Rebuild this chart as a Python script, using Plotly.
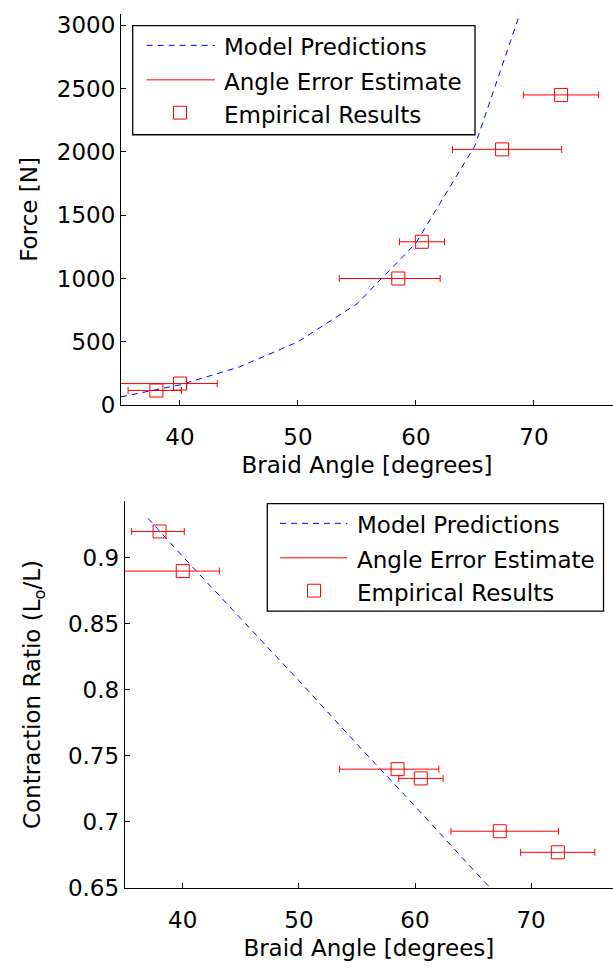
import plotly.graph_objects as go

W, H = 613, 969

# ---------------- data ----------------
angle_deg = [38.0, 40.0, 58.5, 60.5, 67.3, 72.3]
angle_err_low = [35.6, 34.0, 53.5, 58.6, 63.1, 69.1]
angle_err_high = [40.13, 43.15, 62.05, 62.42, 72.35, 75.48]
force_n = [115, 170, 1000, 1290, 2020, 2450]
contraction_ratio = [0.920, 0.890, 0.740, 0.733, 0.693, 0.677]

model_angle_force = [35, 40, 45, 50, 55, 60, 65, 70]
model_force = [65, 160, 300, 500, 800, 1280, 2050, 3420]
model_angle_ratio = [37, 40, 45, 50, 55, 60, 65, 70]
model_ratio = [0.930, 0.901, 0.854, 0.807, 0.759, 0.712, 0.664, 0.617]

legend_labels = ["Model Predictions", "Angle Error Estimate", "Empirical Results"]
x_title = "Braid Angle [degrees]"
y_title_top = "Force [N]"
y_title_bottom = "Contraction Ratio (L<sub>o</sub>/L)"

# ---------------- style ----------------
FONT = "DejaVu Sans"
FS = 23
BLUE = "#0000ff"
RED = "#ff0000"
DASH = "6px,5px"

err_plus = [h - a for h, a in zip(angle_err_high, angle_deg)]
err_minus = [a - l for a, l in zip(angle_deg, angle_err_low)]


def px(x):
    return x / W


def py(y):
    return 1 - y / H


fig = go.Figure()

for xa, ya, mx, my, yv in [
    ("x", "y", model_angle_force, model_force, force_n),
    ("x2", "y2", model_angle_ratio, model_ratio, contraction_ratio),
]:
    fig.add_trace(go.Scatter(
        x=mx, y=my, mode="lines", xaxis=xa, yaxis=ya, showlegend=False,
        line=dict(color=BLUE, width=1, dash=DASH), name=legend_labels[0]))
    fig.add_trace(go.Scatter(
        x=angle_deg, y=yv, mode="markers", xaxis=xa, yaxis=ya, showlegend=False,
        name=legend_labels[2],
        marker=dict(symbol="square-open", size=13, color=RED, line=dict(width=1, color=RED)),
        error_x=dict(type="data", symmetric=False, array=err_plus, arrayminus=err_minus,
                     color=RED, thickness=1, width=3.5)))

# empty traces so the label-carrying overlay x axes are drawn
fig.add_trace(go.Scatter(x=[], y=[], xaxis="x3", yaxis="y", showlegend=False, hoverinfo="skip"))
fig.add_trace(go.Scatter(x=[], y=[], xaxis="x4", yaxis="y2", showlegend=False, hoverinfo="skip"))

tickfont = dict(family=FONT, size=FS, color="black")
axis_common = dict(
    showgrid=False, zeroline=False, showline=True, linecolor="black", linewidth=1,
    ticks="inside", ticklen=5, tickcolor="black", tickwidth=1, mirror=False,
    tickfont=tickfont,
)
# x axes: tick marks inside on the main axis, labels + title on an overlay axis
xlabel_axis = dict(
    showgrid=False, zeroline=False, showline=False, ticks="outside", ticklen=11,
    tickcolor="rgba(0,0,0,0)", tickfont=tickfont, dtick=10, tick0=0, side="bottom",
)

XR_TOP = [35, 76.7]
XR_BOT = [35, 77.05]

fig.update_layout(
    width=W, height=H,
    margin=dict(l=0, r=0, t=0, b=0),
    paper_bgcolor="white", plot_bgcolor="white",
    font=dict(family=FONT, size=FS, color="black"),
    xaxis=dict(axis_common, domain=[px(121), 1], range=XR_TOP, dtick=10, tick0=0,
               anchor="y", showticklabels=False),
    xaxis3=dict(xlabel_axis, overlaying="x", anchor="y", range=XR_TOP,
                title=dict(text=x_title, standoff=8, font=dict(family=FONT, size=FS))),
    yaxis=dict(axis_common, domain=[py(410), py(13)], range=[0, 3091], dtick=500, tick0=0,
               anchor="x", title=dict(text=y_title_top, standoff=12, font=dict(family=FONT, size=FS))),
    xaxis2=dict(axis_common, domain=[px(124.7), 1], range=XR_BOT, dtick=10, tick0=0,
                anchor="y2", showticklabels=False),
    xaxis4=dict(xlabel_axis, overlaying="x2", anchor="y2", range=XR_BOT,
                title=dict(text=x_title, standoff=8, font=dict(family=FONT, size=FS))),
    yaxis2=dict(axis_common, domain=[py(900), py(507.3)], range=[0.65, 0.9431], dtick=0.05, tick0=0,
                anchor="x2", title=dict(text=y_title_bottom, standoff=20, font=dict(family=FONT, size=FS))),
)

# ---------------- manual legends ----------------
shapes = []
annotations = []
for box, sx0, sx1, sqx, ys, tx in [
    ((132.7, 25, 475, 135.7), 146.7, 215, 180, (45, 80, 113.3), 221.7),
    ((267.3, 510, 603.5, 619), 280, 347.3, 314, (530, 565, 598.3), 355),
]:
    x0, y0, x1, y1 = box
    shapes.append(dict(type="rect", xref="paper", yref="paper", x0=px(x0), x1=px(x1),
                       y0=py(y1), y1=py(y0), line=dict(color="black", width=1.3),
                       fillcolor="white", layer="above"))
    shapes.append(dict(type="line", xref="paper", yref="paper", x0=px(sx0), x1=px(sx1),
                       y0=py(ys[0]), y1=py(ys[0]), line=dict(color=BLUE, width=1, dash=DASH)))
    shapes.append(dict(type="line", xref="paper", yref="paper", x0=px(sx0), x1=px(sx1),
                       y0=py(ys[1]), y1=py(ys[1]), line=dict(color=RED, width=1)))
    shapes.append(dict(type="rect", xref="paper", yref="paper", x0=px(sqx - 6.5), x1=px(sqx + 6.5),
                       y0=py(ys[2] + 6.5), y1=py(ys[2] - 6.5), line=dict(color=RED, width=1)))
    for label, yy in zip(legend_labels, ys):
        annotations.append(dict(xref="paper", yref="paper", x=px(tx), y=py(yy + 2),
                                xanchor="left", yanchor="middle", showarrow=False, text=label,
                                font=dict(family=FONT, size=FS, color="black")))

fig.update_layout(shapes=shapes, annotations=annotations)

fig.write_html("out.html")
